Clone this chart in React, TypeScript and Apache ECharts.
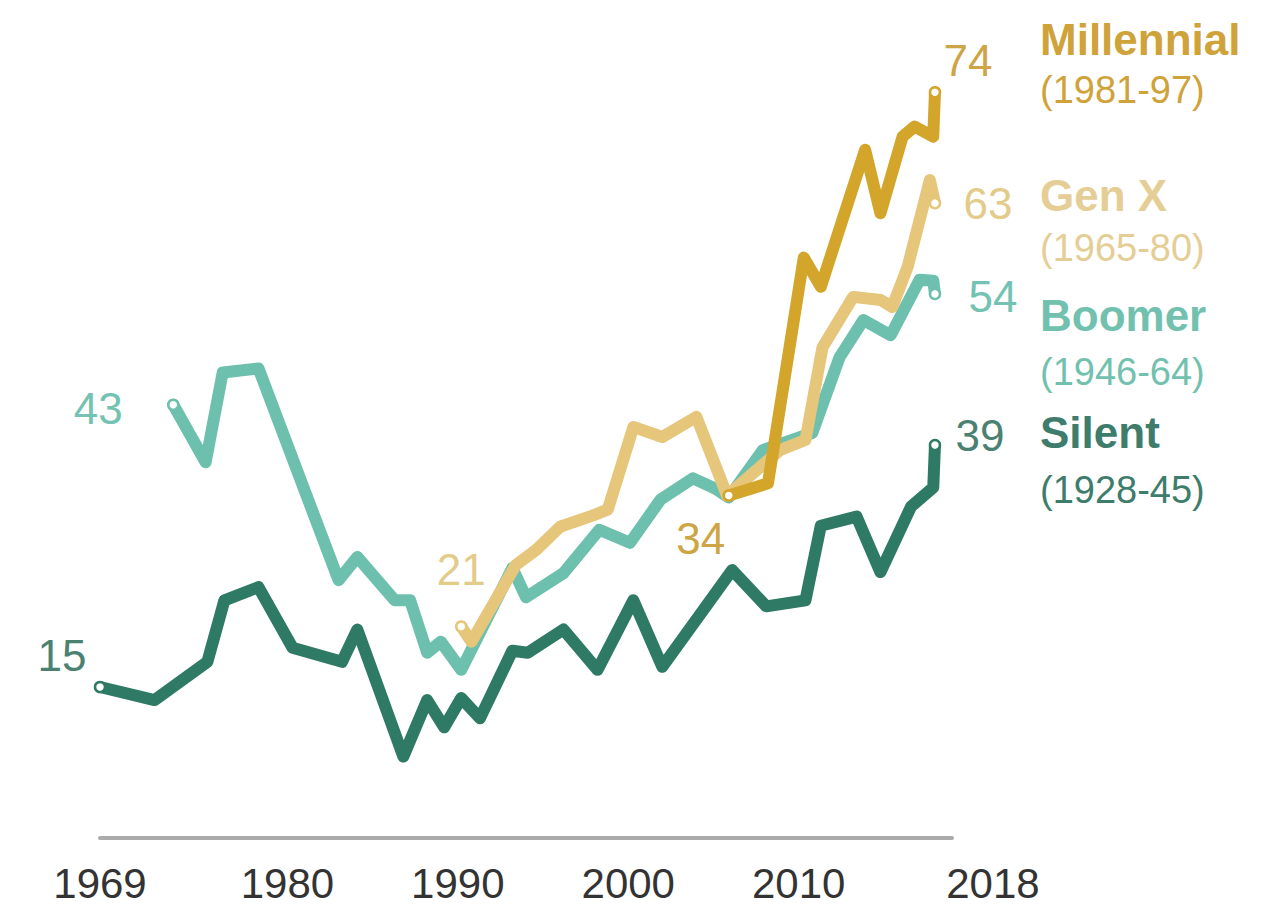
import React, { useEffect, useRef } from "react";
import * as echarts from "echarts";

// Tick labels
const xTickLabels = [1969, 1980, 1990, 2000, 2010, 2018];

// Silent (1928-45)
const silentYears = [1969, 1972.2, 1975.3, 1976.3, 1978.3, 1980.3, 1983.2, 1984.1, 1986.8, 1988.2, 1989.2, 1990.2, 1991.3, 1993.2, 1994.1, 1996.2, 1998.2, 2000.3, 2002.0, 2006.1, 2008.1, 2010.4, 2011.3, 2013.4, 2014.8, 2016.6, 2017.9, 2018];
const silentValues = [15, 13.7, 17.5, 23.6, 24.9, 18.9, 17.5, 20.7, 8.1, 13.7, 11.0, 13.9, 11.9, 18.6, 18.4, 20.7, 16.7, 23.6, 17.0, 26.6, 23.0, 23.6, 31.0, 31.9, 26.4, 32.9, 34.8, 39];

// Boomer (1946-64)
const boomerYears = [1973.3, 1975.2, 1976.2, 1978.3, 1983.0, 1984.1, 1986.3, 1987.2, 1988.2, 1989.0, 1990.2, 1993.2, 1994.0, 1996.2, 1998.3, 2000.1, 2001.9, 2003.8, 2005.1, 2005.9, 2007.9, 2010.8, 2012.4, 2013.8, 2015.4, 2017.1, 2017.9, 2018];
const boomerValues = [43, 37.3, 46.2, 46.6, 25.6, 27.9, 23.6, 23.6, 18.4, 19.5, 16.7, 26.8, 23.9, 26.3, 30.6, 29.3, 33.6, 35.7, 34.7, 33.8, 38.5, 40.2, 47.7, 51.4, 49.9, 55.4, 55.3, 54];

// Gen X (1965-80)
const genXYears = [1990.2, 1990.8, 1993.4, 1994.6, 1996.0, 1997.9, 1998.8, 2000.3, 2002.0, 2004.0, 2005.8, 2008.9, 2010.4, 2011.4, 2013.2, 2014.8, 2015.5, 2016.4, 2017.7, 2018];
const genXValues = [21, 19.5, 27.1, 28.6, 30.9, 32.0, 32.6, 40.8, 39.8, 41.8, 34, 38.5, 39.5, 48.7, 53.7, 53.4, 52.7, 56.7, 65.3, 63];

// Millennial (1981-97)
const millYears = [2005.9, 2008.2, 2010.3, 2011.3, 2013.9, 2014.8, 2016.1, 2016.8, 2017.9, 2018];
const millValues = [34, 35.2, 57.6, 54.7, 68.3, 62.0, 69.6, 70.6, 69.6, 74];

const generationNames = ["Millennial", "Gen X", "Boomer", "Silent"];
const generationSpans = ["(1981-97)", "(1965-80)", "(1946-64)", "(1928-45)"];

const FONT = '"Liberation Sans", Arial, Helvetica, sans-serif';

function buildSeries(
  name: string,
  years: number[],
  values: number[],
  color: string,
  labelColor: string,
  startOffset: number[],
  endOffset: number[]
) {
  const n = years.length;
  const data = years.map((x, i) => {
    const item: any = { value: [x, values[i]] };
    if (i === 0 || i === n - 1) {
      item.label = {
        show: true,
        position: "inside",
        offset: i === 0 ? startOffset : endOffset,
        formatter: String(values[i]),
        color: labelColor,
        fontSize: 44,
        fontFamily: FONT,
      };
    }
    return item;
  });
  return {
    type: "line",
    name,
    data,
    symbol: "circle",
    showSymbol: true,
    symbolSize: (_v: any, params: any) =>
      params.dataIndex === 0 || params.dataIndex === n - 1 ? 10 : 0,
    itemStyle: { color: "#ffffff", borderColor: color, borderWidth: 2.5 },
    lineStyle: { color, width: 12, join: "round", cap: "round" },
    silent: true,
    clip: false,
    z: 2,
  };
}

export default function App() {
  const ref = useRef<HTMLDivElement>(null);

  useEffect(() => {
    document.body.style.margin = "0";
    if (!ref.current) return;
    const chart = echarts.init(ref.current, undefined, { renderer: "svg" });

    const colors = ["#D4A52B", "#E6C67A", "#6DC0AD", "#2E7A64"];
    const textColors = ["#CFA23A", "#E5CE95", "#72C1AF", "#3E7C6C"];
    const nameY = [39, 195, 315, 432];
    const spanY = [90, 248, 372, 490];

    const graphics: any[] = [];
    generationNames.forEach((nm, i) => {
      graphics.push({
        type: "text",
        x: 1040,
        y: nameY[i],
        silent: true,
        style: {
          text: nm,
          fill: textColors[i],
          fontSize: 44,
          fontWeight: "bold",
          fontFamily: FONT,
          verticalAlign: "middle",
          align: "left",
        },
      });
      graphics.push({
        type: "text",
        x: 1040,
        y: spanY[i],
        silent: true,
        style: {
          text: generationSpans[i],
          fill: textColors[i],
          fontSize: 38,
          fontFamily: FONT,
          verticalAlign: "middle",
          align: "left",
        },
      });
    });

    chart.setOption({
      animation: false,
      backgroundColor: "#ffffff",
      grid: { left: 100, right: 315, top: 31.8, bottom: 67.8, containLabel: false },
      xAxis: {
        type: "value",
        min: 1969,
        max: 2019,
        axisLine: { show: true, lineStyle: { color: "#ABABAB", width: 4 } },
        axisTick: { show: false },
        splitLine: { show: false },
        axisLabel: {
          customValues: xTickLabels,
          margin: 24,
          color: "#333333",
          fontSize: 42,
          fontFamily: FONT,
          formatter: (v: number) =>
            v === xTickLabels[xTickLabels.length - 1] ? "{last|" + v + "}" : "{n|" + v + "}",
          rich: {
            n: { fontSize: 42, fontFamily: FONT, color: "#333333" },
            last: { fontSize: 42, fontFamily: FONT, color: "#333333", padding: [0, 0, 0, 116] },
          },
        },
      },
      yAxis: { type: "value", min: 0, max: 80, show: false, splitLine: { show: false } },
      graphic: graphics,
      series: [
        buildSeries("Silent", silentYears, silentValues, colors[3], "#4A8171", [-38, -32], [45, -10]),
        buildSeries("Boomer", boomerYears, boomerValues, colors[2], "#74C2B1", [-75, 4], [58, 3]),
        buildSeries("Gen X", genXYears, genXValues, colors[1], "#E3CB8A", [0, -57], [53, 0]),
        buildSeries("Millennial", millYears, millValues, colors[0], "#CDA545", [-28, 43], [33, -32]),
      ],
    });

    return () => chart.dispose();
  }, []);

  return <div ref={ref} style={{ width: 1267, height: 906 }} />;
}
